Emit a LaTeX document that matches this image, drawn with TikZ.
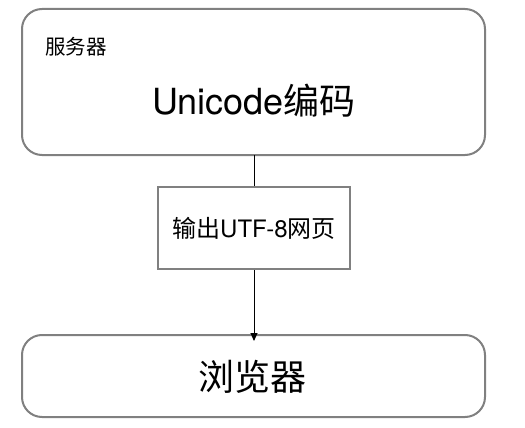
\documentclass[tikz,border=0pt]{standalone}
\usepackage{fontspec}
\setmainfont{TeX Gyre Heros}
\newfontfamily\cjk{Noto Sans CJK SC}
\usetikzlibrary{arrows.meta}
\begin{document}
\begin{tikzpicture}[x=1pt,y=-1pt,
  rbox/.style={draw=black!50,line width=2pt,rounded corners=20pt},
  sbox/.style={draw=black!50,line width=2pt},
  conn/.style={draw=black,line width=0.9pt},
]
\useasboundingbox (0,0) rectangle (525,428);
\draw[rbox] (22,9) rectangle (485,155);
\coordinate (topB) at (254,155);
\node[anchor=west,font=\fontsize{20.5}{20}\selectfont\cjk,inner sep=0] (srv) at (45,47) {服务器};
\node[font=\fontsize{36}{36}\selectfont,inner sep=0] (uni) at (254,101) {Unicode{\cjk 编码}};
\node[sbox,minimum width=192pt,minimum height=82pt,inner sep=0,font=\fontsize{24}{24}\selectfont] (mid) at (254,228) {{\cjk 输出}UTF-8{\cjk 网页}};
\draw[rbox] (22,335) rectangle (485,417);
\coordinate (botT) at (254,335);
\node[font=\fontsize{36}{36}\selectfont\cjk,inner sep=0] (br) at (252,377) {浏览器};
\draw[conn] (topB) -- (mid.north);
\draw[conn,-{Triangle[length=8pt,width=7pt]}] (mid.south) -- ([yshift=-6pt]botT);
\end{tikzpicture}
\end{document}
